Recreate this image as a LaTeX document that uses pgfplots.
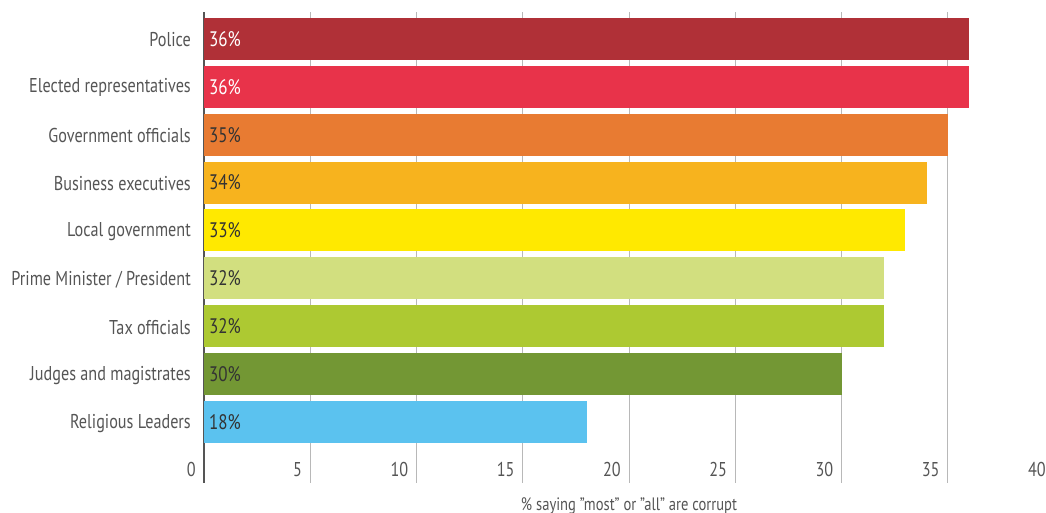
\documentclass[border=0pt]{standalone}
\usepackage{pgfplots}
\pgfplotsset{compat=1.18}
\usepackage{fontspec}
\setmainfont{PT Sans}[FakeStretch=0.81]
\definecolor{cPol}{HTML}{B03037}
\definecolor{cEle}{HTML}{E8334A}
\definecolor{cGov}{HTML}{E87B32}
\definecolor{cBus}{HTML}{F7B31E}
\definecolor{cLoc}{HTML}{FFE900}
\definecolor{cPM}{HTML}{D2DF7F}
\definecolor{cTax}{HTML}{ADC932}
\definecolor{cJud}{HTML}{739734}
\definecolor{cRel}{HTML}{5BC2EF}
\definecolor{txt}{HTML}{555555}
\definecolor{dark}{HTML}{333333}
\begin{document}
\begin{tikzpicture}
\begin{axis}[
  scale only axis, width=850pt, height=471pt,
  xmin=0, xmax=40, ymin=-1.27, ymax=8.56,
  axis x line*=bottom, axis y line*=left,
  x axis line style={draw=none},
  y axis line style={draw=txt, line width=2.5pt},
  xtick={0,5,...,40}, ytick={0,...,8},
  yticklabels={Religious Leaders, Judges and magistrates, Tax officials, Prime Minister / President, Local government, Business executives, Government officials, Elected representatives, Police},
  major tick length=0pt,
  xmajorgrids, grid style={draw=black!28, line width=1pt},
  /pgf/number format/assume math mode=true,
  xticklabel style={font=\fontsize{20}{24}\selectfont, text=txt, anchor=base east, inner sep=0pt, xshift=-8pt, yshift=6pt},
  yticklabel style={font=\fontsize{20}{24}\selectfont, text=txt, anchor=east, inner sep=0pt, xshift=-13pt, yshift=-1pt},
  xlabel={\% saying \symbol{34}most\symbol{34} or \symbol{34}all\symbol{34} are corrupt},
  xlabel style={font=\fontsize{18}{21}\selectfont, text=txt, at={(axis description cs:0.5,0)}, anchor=north, inner sep=0pt, yshift=-14pt},
]
\addplot[xbar, bar width=42pt, bar shift=0pt, fill=cRel, draw=none] coordinates {(18,0)};
\addplot[xbar, bar width=42pt, bar shift=0pt, fill=cJud, draw=none] coordinates {(30,1)};
\addplot[xbar, bar width=42pt, bar shift=0pt, fill=cTax, draw=none] coordinates {(32,2)};
\addplot[xbar, bar width=42pt, bar shift=0pt, fill=cPM, draw=none] coordinates {(32,3)};
\addplot[xbar, bar width=42pt, bar shift=0pt, fill=cLoc, draw=none] coordinates {(33,4)};
\addplot[xbar, bar width=42pt, bar shift=0pt, fill=cBus, draw=none] coordinates {(34,5)};
\addplot[xbar, bar width=42pt, bar shift=0pt, fill=cGov, draw=none] coordinates {(35,6)};
\addplot[xbar, bar width=42pt, bar shift=0pt, fill=cEle, draw=none] coordinates {(36,7)};
\addplot[xbar, bar width=42pt, bar shift=0pt, fill=cPol, draw=none] coordinates {(36,8)};
\addplot[draw=none, mark=none, nodes near coords, point meta=explicit symbolic,
  every node near coord/.append style={anchor=west, inner sep=0pt, xshift=5pt, text=dark, font=\fontsize{21}{25}\selectfont}]
  coordinates {(0,0)[18\%] (0,1)[30\%] (0,2)[32\%] (0,3)[32\%] (0,4)[33\%] (0,5)[34\%] (0,6)[35\%]};
\addplot[draw=none, mark=none, nodes near coords, point meta=explicit symbolic,
  every node near coord/.append style={anchor=west, inner sep=0pt, xshift=5pt, text=white, font=\fontsize{21}{25}\selectfont}]
  coordinates {(0,7)[36\%] (0,8)[36\%]};
\end{axis}
\pgfresetboundingbox
\path[use as bounding box] ([shift={(-204pt,-30pt)}]current axis.south west) rectangle ++(1046pt,513pt);
\end{tikzpicture}
\end{document}
